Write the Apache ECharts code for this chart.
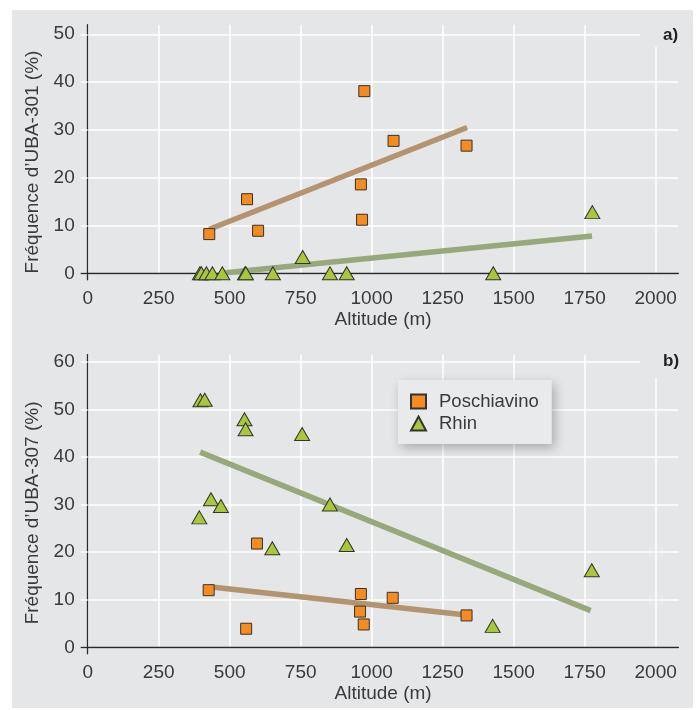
<!DOCTYPE html>
<html><head><meta charset="utf-8">
<script src="https://cdn.jsdelivr.net/npm/echarts@6/dist/echarts.min.js"></script>
<style>
html,body{margin:0;padding:0;background:#fff;}
#panel{position:absolute;left:12px;top:10px;width:681px;height:698px;background:#e5e6e8;}
#chart{position:absolute;left:0;top:0;width:698px;height:710px;}
</style></head><body>
<div id="panel"></div><div id="chart"></div>
<script>
// ---- data ----
const altitudeMax = 2080;
const xTickStep = 250;
const yTickStep = 10;
const yMaxA = 52;
const yMaxB = 61.5;

const poschAltA = [428, 561, 600, 962, 966, 974, 1077, 1334];
const poschValA = [8.2, 15.5, 8.9, 18.6, 11.2, 38.1, 27.7, 26.7];
const rhinAltA  = [395, 400, 418, 439, 474, 554, 557, 652, 757, 853, 912, 1428, 1777];
const rhinValA  = [0, 0, 0, 0, 0, 0, 0, 0, 3.4, 0, 0, 0, 12.8];

const poschAltB = [426, 558, 596, 959, 962, 972, 1074, 1334];
const poschValB = [12.0, 3.9, 21.8, 7.5, 11.2, 4.8, 10.4, 6.7];
const rhinAltB  = [393, 397, 412, 434, 469, 552, 556, 650, 755, 853, 912, 1426, 1775];
const rhinValB  = [27.3, 51.9, 52.0, 31.1, 29.7, 47.9, 45.8, 20.8, 44.8, 30.0, 21.5, 4.5, 16.2];

const poschTrendA = [[428, 9.2], [1336, 30.5]];
const rhinTrendA  = [[485, 0.1], [1776, 7.8]];
const poschTrendB = [[428, 12.7], [1332, 6.8]];
const rhinTrendB  = [[396, 41.0], [1771, 7.7]];

const yNameA = "Fréquence d’UBA-301 (%)";
const yNameB = "Fréquence d’UBA-307 (%)";
const xName = "Altitude (m)";
const seriesNames = ["Poschiavino", "Rhin"];
const panelLabels = ["a)", "b)"];

// ---- styling ----
const FONT = "Liberation Sans";
const TXT = "#3a3a3a";
const AXIS = "#2a2a2a";
const GRID = "#ffffff";
const BG = "#e5e6e8";
const ORANGE = "#f68b1f";
const GREEN = "#a8c83a";
const TAN_LINE = "#b3946f";
const GREEN_LINE = "#97a97b";

const zip = (xs, ys) => xs.map((x, i) => [x, ys[i]]);
const plain = v => String(v);

function axesFor(gi, yMax, yName, namePad) {
  const yTicks = [];
  for (let v = yTickStep; v < yMax; v += yTickStep) yTicks.push(v);
  const x = [
    { type: 'value', gridIndex: gi, min: 0, max: altitudeMax, interval: xTickStep, position: 'bottom',
      name: xName, nameLocation: 'middle', nameGap: 37,
      nameTextStyle: { fontFamily: FONT, fontSize: 19, color: TXT },
      axisLine: { show: true, onZero: true, lineStyle: { color: AXIS, width: 1.3 } },
      axisTick: { show: false },
      axisLabel: { fontFamily: FONT, fontSize: 19, color: TXT, margin: 16, showMaxLabel: false, formatter: plain },
      splitLine: { show: true, showMaxLine: false, lineStyle: { color: GRID, width: 1.5 } } },
    { type: 'value', gridIndex: gi, min: 0, max: altitudeMax, position: 'bottom', z: 3,
      axisLine: { show: false }, axisLabel: { show: false }, splitLine: { show: false },
      axisTick: { show: true, customValues: [0], length: 7, lineStyle: { color: AXIS, width: 1.3 } } }
  ];
  const y = [
    { type: 'value', gridIndex: gi, min: 0, max: yMax, interval: yTickStep, position: 'left',
      name: yName, nameLocation: 'middle', nameGap: 43, nameRotate: 90,
      nameTextStyle: { fontFamily: FONT, fontSize: 19, color: TXT, padding: [0, namePad, 0, 0] },
      axisLine: { show: true, lineStyle: { color: AXIS, width: 1.3 } },
      axisTick: { show: false },
      axisLabel: { fontFamily: FONT, fontSize: 19, color: TXT, margin: 13, showMaxLabel: false, formatter: plain },
      splitLine: { show: true, showMaxLine: false, lineStyle: { color: GRID, width: 1.5 } } },
    { type: 'value', gridIndex: gi, min: 0, max: yMax, position: 'left', z: 2,
      axisLine: { show: false }, axisLabel: { show: false }, splitLine: { show: false },
      axisTick: { show: true, customValues: yTicks, length: 7, lineStyle: { color: GRID, width: 1.5 } } },
    { type: 'value', gridIndex: gi, min: 0, max: yMax, position: 'left', z: 3,
      axisLine: { show: false }, axisLabel: { show: false }, splitLine: { show: false },
      axisTick: { show: true, customValues: [0], length: 7, lineStyle: { color: AXIS, width: 1.3 } } }
  ];
  return { x, y };
}

function seriesFor(xi, yi, posch, rhin, poschTrend, rhinTrend) {
  return [
    { type: 'line', name: 'trendP', xAxisIndex: xi, yAxisIndex: yi, data: poschTrend, symbol: 'none',
      silent: true, z: 1, lineStyle: { color: TAN_LINE, width: 5.5 } },
    { type: 'line', name: 'trendR', xAxisIndex: xi, yAxisIndex: yi, data: rhinTrend, symbol: 'none',
      silent: true, z: 1, lineStyle: { color: GREEN_LINE, width: 5.5 } },
    { type: 'scatter', name: seriesNames[0], xAxisIndex: xi, yAxisIndex: yi, data: posch, z: 3,
      symbol: 'rect', symbolSize: 11,
      itemStyle: { color: ORANGE, borderColor: '#333', borderWidth: 1, opacity: 1 } },
    { type: 'scatter', name: seriesNames[1], xAxisIndex: xi, yAxisIndex: yi, data: rhin, z: 3,
      symbol: 'triangle', symbolSize: [15, 13],
      itemStyle: { color: GREEN, borderColor: '#333', borderWidth: 1, opacity: 1 } }
  ];
}

const A = axesFor(0, yMaxA, yNameA, 26);
const B = axesFor(1, yMaxB, yNameB, 24);

const option = {
  animation: false,
  backgroundColor: 'transparent',
  textStyle: { fontFamily: FONT },
  grid: [
    { left: 87.7, width: 590.7, top: 24.7, height: 248.6 },
    { left: 87.7, width: 590.7, top: 354.6, height: 292.7 }
  ],
  title: [
    { text: panelLabels[0], left: 640, top: 22, backgroundColor: BG, padding: [4.7, 15, 2.3, 23],
      textStyle: { fontFamily: FONT, fontSize: 17, fontWeight: 'bold', color: '#222', lineHeight: 18 } },
    { text: panelLabels[1], left: 640, top: 349, backgroundColor: BG, padding: [3.7, 13, 7.3, 23],
      textStyle: { fontFamily: FONT, fontSize: 17, fontWeight: 'bold', color: '#222', lineHeight: 18 } }
  ],
  legend: {
    data: seriesNames, orient: 'vertical', left: 398, top: 380,
    padding: [12, 13, 11, 12], itemGap: 3, itemWidth: 15, itemHeight: 14,
    backgroundColor: '#e9eaeb', shadowBlur: 10, shadowColor: 'rgba(0,0,0,0.25)', shadowOffsetX: 3, shadowOffsetY: 4,
    textStyle: { fontFamily: FONT, fontSize: 18.5, color: TXT, padding: [0, 0, 0, 8] },
    selectedMode: false
  },
  xAxis: [...A.x, ...B.x],
  yAxis: [...A.y, ...B.y],
  series: [
    ...seriesFor(0, 0, zip(poschAltA, poschValA), zip(rhinAltA, rhinValA), poschTrendA, rhinTrendA),
    ...seriesFor(2, 3, zip(poschAltB, poschValB), zip(rhinAltB, rhinValB), poschTrendB, rhinTrendB)
  ]
};

const chart = echarts.init(document.getElementById('chart'), null, { renderer: 'canvas' });
chart.setOption(option);
</script>
</body></html>
